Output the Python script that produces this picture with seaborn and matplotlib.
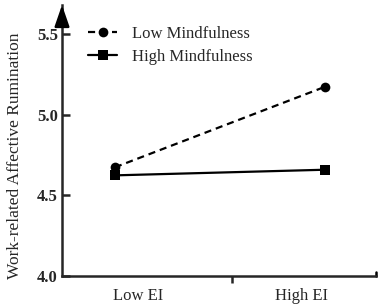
import matplotlib
matplotlib.use("Agg")
import matplotlib.pyplot as plt
import matplotlib.transforms as mtrans
import seaborn as sns
import pandas as pd

# ---- data ----
ei_levels = ["Low EI", "High EI"]
groups = ["Low Mindfulness", "High Mindfulness"]
low_mind = [4.675, 5.175]
high_mind = [4.625, 4.66]
y_ticks = [4.0, 4.5, 5.0, 5.5]
y_label = "Work-related Affective Rumination"

rows = []
for g, vals in zip(groups, [low_mind, high_mind]):
    for i, (lvl, v) in enumerate(zip(ei_levels, vals)):
        rows.append({"pos": i, "EI": lvl, "group": g, "value": v})
df = pd.DataFrame(rows)

sns.set_style("ticks")
plt.rcParams["font.family"] = ["Liberation Serif", "DejaVu Serif"]
plt.rcParams["axes.linewidth"] = 1.8

fig = plt.figure(figsize=(3.83, 3.08), dpi=100)
ax = fig.add_axes([62 / 383, 32 / 308, (376 - 62) / 383, (303) / 308 - 32 / 308])

sns.lineplot(
    data=df, x="pos", y="value", style="group", hue="group",
    palette={g: "black" for g in groups},
    markers={"Low Mindfulness": "o", "High Mindfulness": "s"},
    dashes={"Low Mindfulness": (3.2, 2.2), "High Mindfulness": ""},
    markersize=7, linewidth=1.6, markeredgewidth=0, ax=ax, legend=True,
)

ax.set_xlim(-0.252, 1.243)
ax.set_ylim(4.0, 5.683)

# y axis
ax.set_yticks(y_ticks)
ax.set_yticklabels([f"{t:.1f}" for t in y_ticks], fontweight="bold", fontsize=12)
ax.tick_params(axis="y", direction="in", length=6, width=1.8, pad=3)
ax.set_ylabel(y_label, fontsize=12.5)
ax.yaxis.set_label_coords(-0.124, 0.443)

# x axis: labels offset from points as in reference, minor tick between
ax.set_xticks([0.11, 0.89])
ax.set_xticklabels(ei_levels, fontsize=12)
ax.tick_params(axis="x", length=0, pad=9)
ax.set_xticks([0.557], minor=True)
ax.tick_params(axis="x", which="minor", direction="out", length=5, width=1.8)
ax.set_xlabel("")

for s in ["top", "right"]:
    ax.spines[s].set_visible(False)

# right end cap of x axis
trans = mtrans.blended_transform_factory(ax.transAxes, ax.transAxes)
ax.plot([1, 1], [0, 0.016], color="black", lw=1.8, transform=trans, clip_on=False)

# arrow head on y axis
ax.annotate("", xy=(0, 1.0), xytext=(0, 0.93), xycoords="axes fraction",
            arrowprops=dict(arrowstyle="-|>,head_length=1.3,head_width=0.45",
                            color="black", lw=1.8, shrinkA=0, shrinkB=0,
                            mutation_scale=10))

leg = ax.legend(loc="center left", bbox_to_anchor=(88 / 383, (308 - 45.5) / 308),
                bbox_transform=fig.transFigure, frameon=False, fontsize=12,
                handlelength=1.75, handletextpad=0.9, labelspacing=0.45,
                borderpad=0, borderaxespad=0)

fig.savefig("out.png", dpi=100)
